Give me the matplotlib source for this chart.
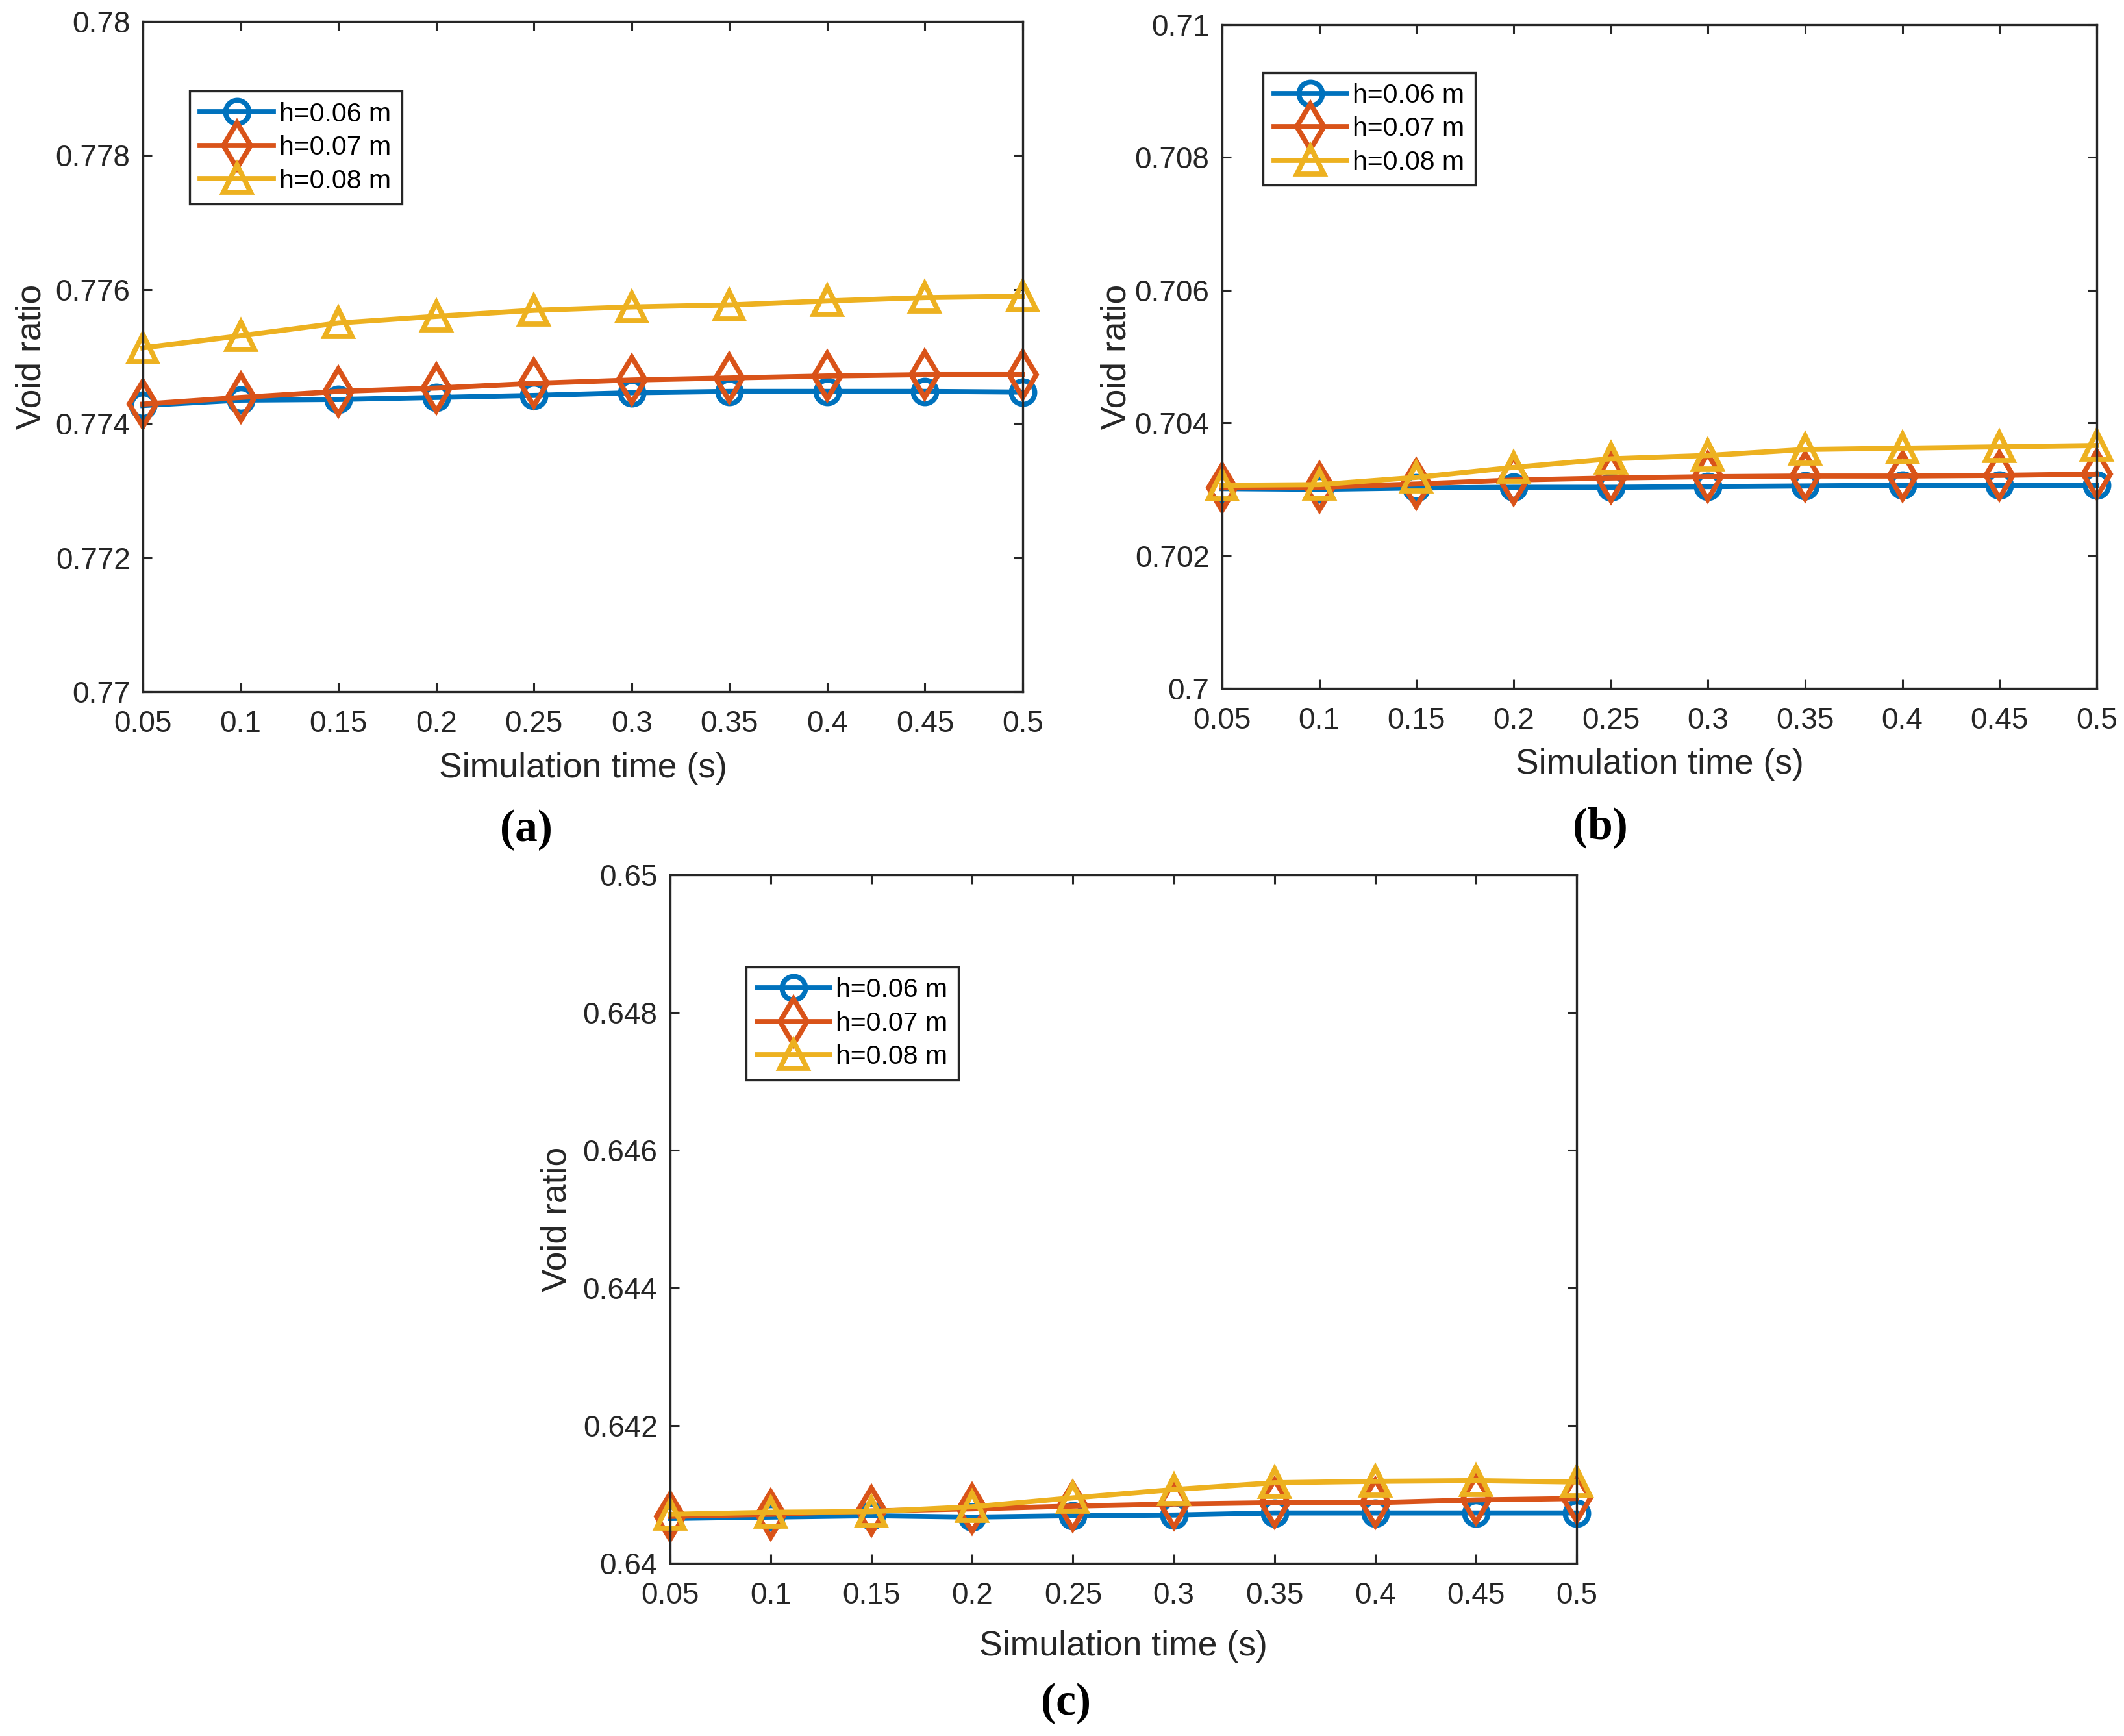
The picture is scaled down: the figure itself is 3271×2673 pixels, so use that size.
import numpy as np
import matplotlib
matplotlib.use("Agg")
import matplotlib.pyplot as plt
from matplotlib.ticker import FuncFormatter

# ---------------- data ----------------
time_s = [0.05, 0.10, 0.15, 0.20, 0.25, 0.30, 0.35, 0.40, 0.45, 0.50]
series_labels = ["h=0.06 m", "h=0.07 m", "h=0.08 m"]

a_h006 = [0.77427, 0.77435, 0.77436, 0.77439, 0.77442, 0.77446, 0.77448, 0.77448, 0.77448, 0.77447]
a_h007 = [0.77429, 0.77439, 0.77448, 0.77453, 0.77460, 0.77465, 0.77468, 0.77471, 0.77473, 0.77473]
a_h008 = [0.77513, 0.77531, 0.77550, 0.77560, 0.77569, 0.77574, 0.77577, 0.77583, 0.77588, 0.77590]

b_h006 = [0.70301, 0.70300, 0.70302, 0.70303, 0.70303, 0.70304, 0.70305, 0.70306, 0.70306, 0.70306]
b_h007 = [0.70302, 0.70303, 0.70308, 0.70314, 0.70317, 0.70319, 0.70320, 0.70320, 0.70321, 0.70323]
b_h008 = [0.70306, 0.70307, 0.70318, 0.70333, 0.70346, 0.70351, 0.70360, 0.70362, 0.70364, 0.70366]

c_h006 = [0.64065, 0.64067, 0.64069, 0.64067, 0.64069, 0.64070, 0.64073, 0.64073, 0.64073, 0.64073]
c_h007 = [0.64068, 0.64071, 0.64076, 0.64079, 0.64083, 0.64086, 0.64088, 0.64088, 0.64092, 0.64094]
c_h008 = [0.64071, 0.64074, 0.64075, 0.64082, 0.64095, 0.64107, 0.64117, 0.64119, 0.64120, 0.64118]

a_yticks = [0.770, 0.772, 0.774, 0.776, 0.778, 0.780]
b_yticks = [0.700, 0.702, 0.704, 0.706, 0.708, 0.710]
c_yticks = [0.640, 0.642, 0.644, 0.646, 0.648, 0.650]
x_ticks = time_s

panel_names = ["(a)", "(b)", "(c)"]
x_label = "Simulation time (s)"
y_label = "Void ratio"

# ---------------- style ----------------
W, H = 3271, 2673
DPI = 100
plt.rcParams['font.family'] = ['Liberation Sans', 'DejaVu Sans']
AX_COL = '#262626'
colors = ['#0072BD', '#D95319', '#EDB120']
markers = ['o', 'd', '^']
msizes = [26, 36, 30]
LW = 5.6

fig = plt.figure(figsize=(W / DPI, H / DPI), dpi=DPI)


def add_ax(left, right, top, bottom):
    return fig.add_axes([left / W, 1 - bottom / H, (right - left) / W, (bottom - top) / H])


panels = [
    dict(box=(220, 1575, 33, 1065), data=[a_h006, a_h007, a_h008], yt=a_yticks,
         leg=(0.053, 0.896), ylc=-0.108, xlc=-0.090, name=(810, 1278)),
    dict(box=(1882, 3229, 38, 1060), data=[b_h006, b_h007, b_h008], yt=b_yticks,
         leg=(0.047, 0.928), ylc=-0.102, xlc=-0.090, name=(2464, 1274)),
    dict(box=(1032, 2428, 1347, 2407), data=[c_h006, c_h007, c_h008], yt=c_yticks,
         leg=(0.084, 0.866), ylc=-0.107, xlc=-0.097, name=(1641, 2623)),
]

fmt = FuncFormatter(lambda v, p: '%g' % round(v, 6))

for i, p in enumerate(panels):
    ax = add_ax(*p['box'])
    for ys, c, m, ms, lab in zip(p['data'], colors, markers, msizes, series_labels):
        ax.plot(time_s, ys, color=c, lw=LW, marker=m, markersize=ms,
                markerfacecolor='none', markeredgecolor=c, markeredgewidth=LW,
                label=lab, clip_on=False)
    ax.set_xlim(time_s[0], time_s[-1])
    ax.set_ylim(p['yt'][0], p['yt'][-1])
    ax.set_xticks(x_ticks)
    ax.set_yticks(p['yt'])
    ax.xaxis.set_major_formatter(fmt)
    ax.yaxis.set_major_formatter(fmt)
    ax.tick_params(direction='in', top=True, right=True, length=10, width=2.2,
                   color=AX_COL, labelcolor=AX_COL, labelsize=33)
    ax.tick_params(axis='x', pad=20)
    ax.tick_params(axis='y', pad=14)
    for s in ax.spines.values():
        s.set_color(AX_COL)
        s.set_linewidth(2.4)
    ax.set_xlabel(x_label, fontsize=38.5, color=AX_COL)
    ax.set_ylabel(y_label, fontsize=38.5, color=AX_COL)
    ax.xaxis.set_label_coords(0.5, p['xlc'])
    ax.yaxis.set_label_coords(p['ylc'], 0.5)
    leg = ax.legend(loc='upper left', bbox_to_anchor=p['leg'], borderaxespad=0,
                    fontsize=29.5, handlelength=2.75, handletextpad=0.22,
                    labelspacing=0.33, borderpad=0.4, fancybox=False,
                    framealpha=1, edgecolor=AX_COL, numpoints=1)
    leg.get_frame().set_linewidth(2.4)
    nx, ny = p['name']
    fig.text(nx / W, 1 - ny / H, panel_names[i], ha='center', va='center',
             fontsize=50, fontweight='bold', family=['Liberation Serif', 'DejaVu Serif'])

fig.savefig('out.png', dpi=DPI)
